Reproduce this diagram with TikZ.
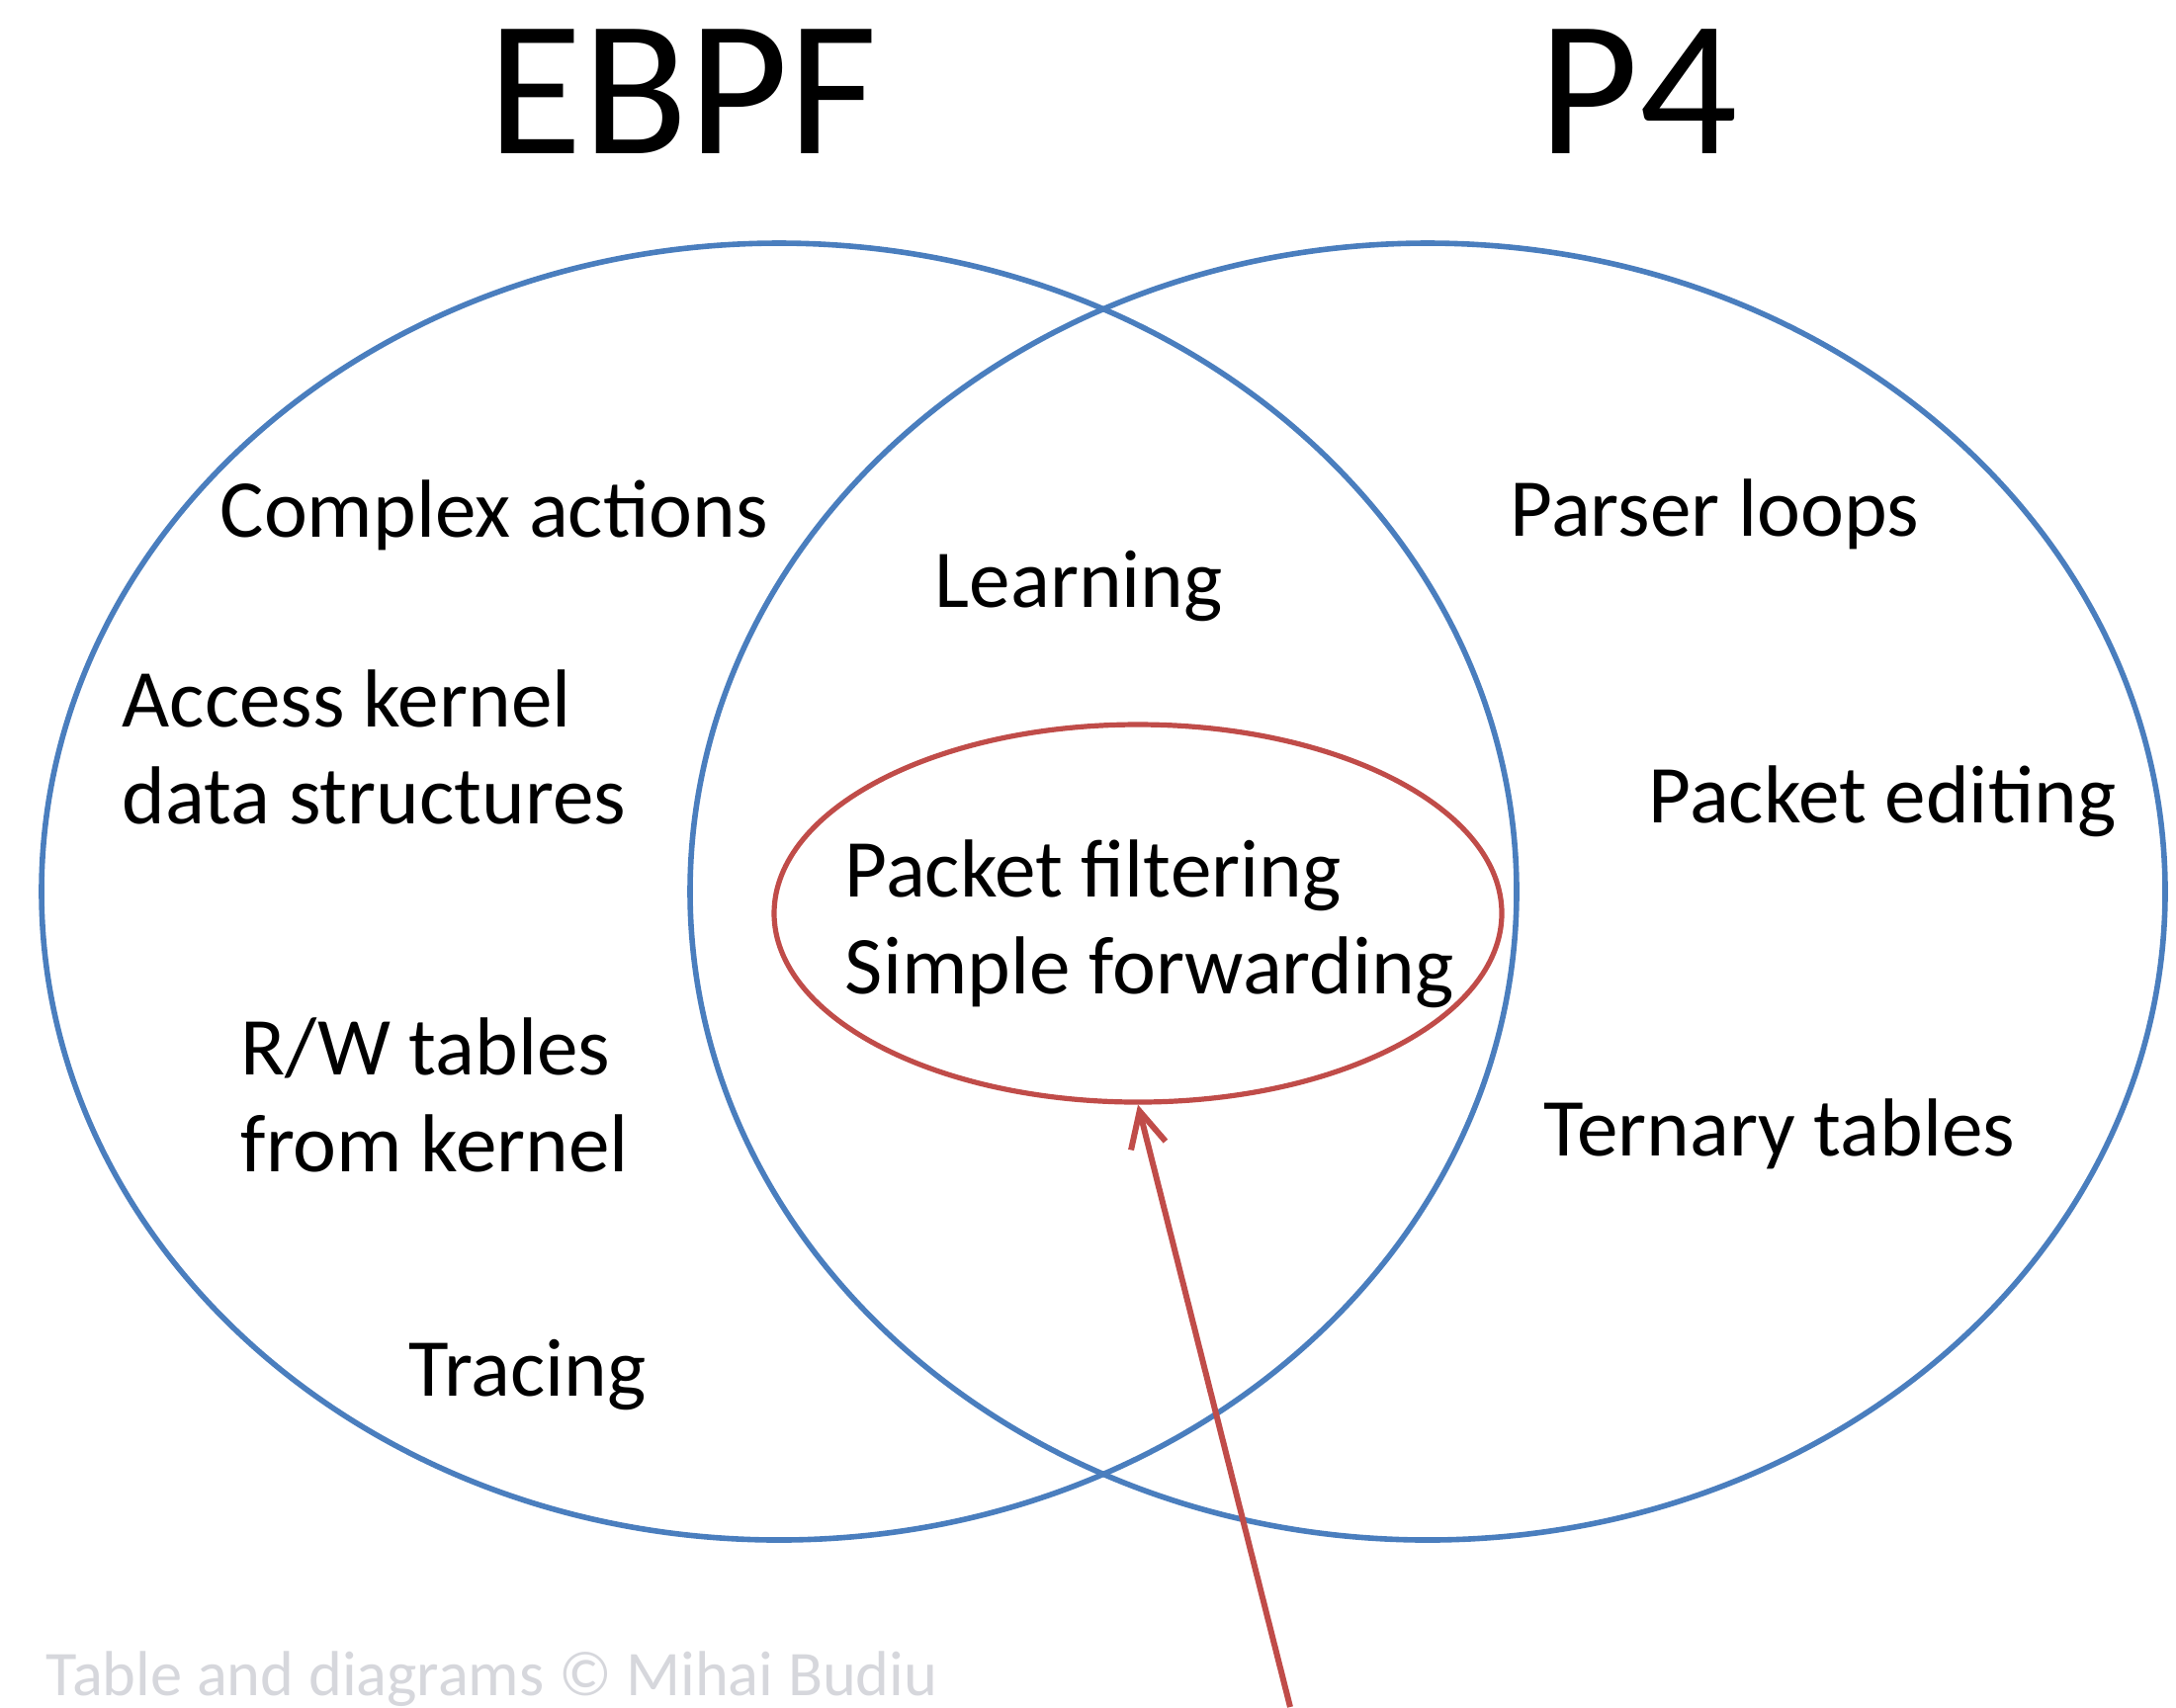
\documentclass[tikz,border=0pt]{standalone}
\usepackage{fontspec}
\setmainfont{Carlito}
\usetikzlibrary{shapes.geometric,arrows.meta}
\definecolor{vennblue}{RGB}{74,126,190}
\definecolor{hotred}{RGB}{192,76,73}
\definecolor{creditgray}{RGB}{214,215,220}
\begin{document}
\begin{tikzpicture}[x=0.25pt,y=-0.25pt,
  set/.style={ellipse,draw=vennblue,line width=1.4pt,inner sep=0pt,
    minimum width=373pt,minimum height=328pt},
  focus/.style={ellipse,draw=hotred,line width=1.3pt,inner sep=0pt,
    minimum width=184pt,minimum height=95.5pt},
  title/.style={anchor=base west,inner sep=0pt,font=\fontsize{49}{58}\selectfont},
  feature/.style={anchor=base west,inner sep=0pt,align=left,
    font=\fontsize{20.8}{24.5}\selectfont},
  credit/.style={anchor=base west,inner sep=0pt,text=creditgray,
    font=\fontsize{16.1}{19}\selectfont},
  pointer/.style={draw=hotred,line width=1.5pt,
    -{Straight Barb[length=9pt,width=9pt,line width=1.5pt]}}]
\useasboundingbox (0,0) rectangle (2201,1727);

% the two language circles and the highlighted common core
\node[set] (ebpf) at (788,902) {};
\node[set] (p4) at (1444,902) {};
\node[focus] (core) at (1151,924) {};

% headings
\node[title] (ebpftitle) at (493,155) {EBPF};
\node[title] (p4title) at (1556,155) {P4};

% eBPF-only features (two-line labels sit on their last baseline)
\node[feature] (complex) at (222,543) {Complex actions};
\node[feature] (kernel) at (123,833) {Access kernel\\data structures};
\node[feature] (rw) at (243,1185) {R/W tables\\from kernel};
\node[feature] (tracing) at (413,1412) {Tracing};

% shared features
\node[feature] (learning) at (945,614) {Learning};
\node[feature] (filtering) at (854,1005) {Packet filtering\\Simple forwarding};

% P4-only features
\node[feature] (parser) at (1527,542) {Parser loops};
\node[feature] (editing) at (1667,832) {Packet editing};
\node[feature] (ternary) at (1561,1169) {Ternary tables};

% pointer into the common core
\coordinate (tail) at (1305,1727);
\draw[pointer] (tail) -- (core.south);

\node[credit] (copyright) at (46,1715) {Table and diagrams © Mihai Budiu};
\end{tikzpicture}
\end{document}
